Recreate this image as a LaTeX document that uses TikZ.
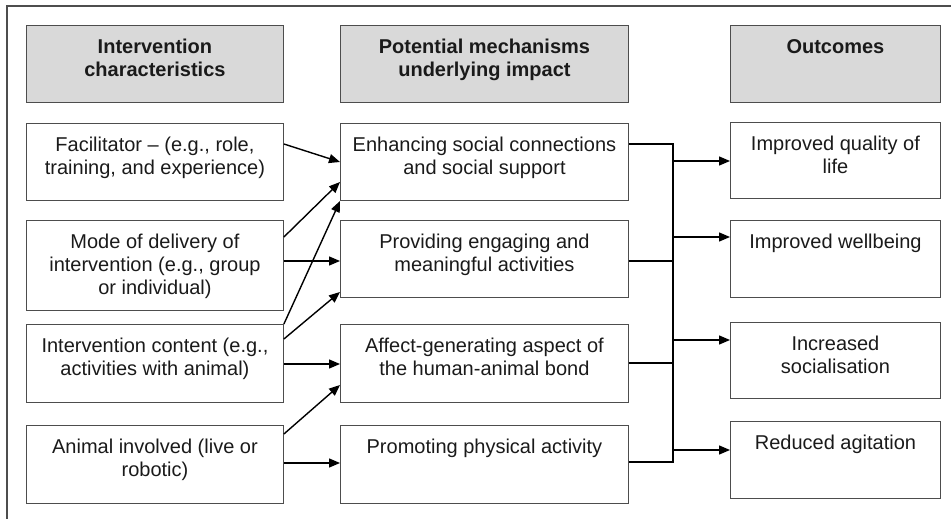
\documentclass[tikz,border=0pt]{standalone}
\usepackage{fontspec}
\setmainfont{Liberation Sans}
\usetikzlibrary{arrows.meta}
\definecolor{headgray}{HTML}{D9D9D9}
\definecolor{boxgray}{HTML}{4D4D4D}
\definecolor{inkcol}{HTML}{1A1A1A}
\newcommand\cell[3]{\parbox[c][#2][t]{#1}{\centering\vspace*{12pt}\strut#3\par}}
\begin{document}
\begin{tikzpicture}[x=1pt,y=-1pt,
  box/.style={draw=boxgray, line width=0.9pt, inner sep=0pt, anchor=north west,
    text=inkcol, font=\fontsize{20}{23}\selectfont},
  headbox/.style={box, fill=headgray, font=\fontsize{20}{23}\selectfont\bfseries},
  conn/.style={line width=1.4pt, black},
  arr/.style={conn, -{Triangle[length=11pt,width=9pt]}},
  frame/.style={line width=1.2pt, boxgray}]
\useasboundingbox (0,0) rectangle (951,519);

% frame
\coordinate (fr1) at (951,6);
\coordinate (fr2) at (7,6);
\coordinate (fr3) at (7,519);
\draw[frame] (fr1) -- (fr2) -- (fr3);

% headers
\node[headbox] (h1) at (26,25) {\cell{257pt}{77pt}{Intervention\\characteristics}};
\node[headbox] (h2) at (340,25) {\cell{288pt}{77pt}{Potential mechanisms\\underlying impact}};
\node[headbox] (h3) at (730,25) {\cell{210pt}{77pt}{Outcomes}};

% left column
\node[box] (l1) at (26,123) {\cell{257pt}{77pt}{Facilitator -- (e.g., role,\\training, and experience)}};
\node[box] (l2) at (26,220) {\cell{257pt}{90pt}{Mode of delivery of\\intervention (e.g., group\\or individual)}};
\node[box] (l3) at (26,324) {\cell{257pt}{78pt}{Intervention content (e.g.,\\activities with animal)}};
\node[box] (l4) at (26,425) {\cell{257pt}{78pt}{Animal involved (live or\\robotic)}};

% middle column
\node[box] (m1) at (340,123) {\cell{288pt}{77pt}{Enhancing social connections\\and social support}};
\node[box] (m2) at (340,220) {\cell{288pt}{77pt}{Providing engaging and\\meaningful activities}};
\node[box] (m3) at (340,324) {\cell{288pt}{78pt}{Affect-generating aspect of\\the human-animal bond}};
\node[box] (m4) at (340,425) {\cell{288pt}{78pt}{Promoting physical activity}};

% right column
\node[box] (o1) at (730,122) {\cell{210pt}{76pt}{Improved quality of\\life}};
\node[box] (o2) at (730,220) {\cell{210pt}{77pt}{Improved wellbeing}};
\node[box] (o3) at (730,322) {\cell{210pt}{76pt}{Increased\\socialisation}};
\node[box] (o4) at (730,421) {\cell{210pt}{77pt}{Reduced agitation}};

% left -> middle arrows
\draw[arr] (l1.east |- 0,144) -- (m1.west |- 0,162);
\draw[arr] (l2.east |- 0,237) -- (m1.west |- 0,182);
\draw[arr] (l2.east |- 0,261) -- (m2.west |- 0,261);
\draw[arr] (l3.north east) -- (m1.west |- 0,201);
\draw[arr] (l3.east |- 0,339) -- (m2.west |- 0,292);
\draw[arr] (l3.east |- 0,364) -- (m3.west |- 0,364);
\draw[arr] (l4.east |- 0,434) -- (m3.west |- 0,385);
\draw[arr] (l4.east |- 0,463) -- (m4.west |- 0,463);

% bus
\coordinate (bt) at (673,144);
\coordinate (bb) at (673,462);
\draw[conn] (m1.east |- 0,144) -- (bt) -- (bb) -- (m4.east |- 0,462);
\draw[conn] (m2.east |- 0,261) -- (bt |- 0,261);
\draw[conn] (m3.east |- 0,363) -- (bt |- 0,363);

% bus -> outcomes
\draw[arr] (bt |- 0,161) -- (o1.west |- 0,161);
\draw[arr] (bt |- 0,237) -- (o2.west |- 0,237);
\draw[arr] (bt |- 0,340) -- (o3.west |- 0,340);
\draw[arr] (bt |- 0,450) -- (o4.west |- 0,450);
\end{tikzpicture}
\end{document}
